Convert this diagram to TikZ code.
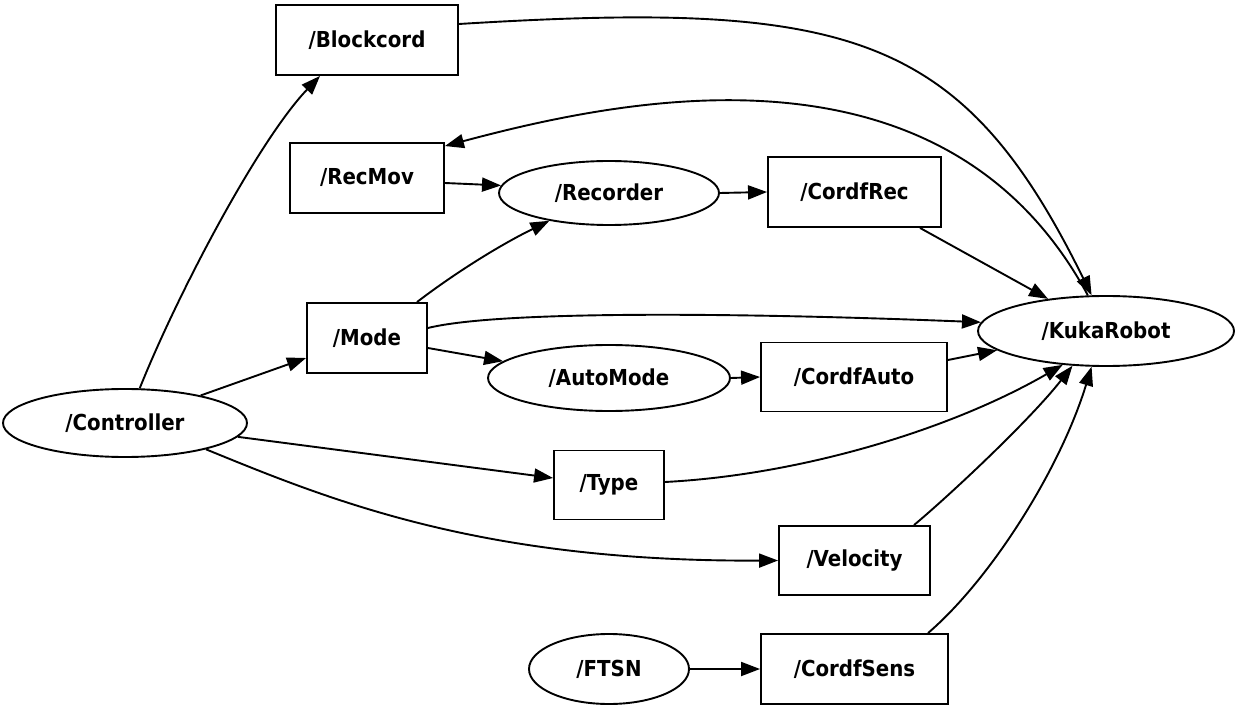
\documentclass[tikz,border=0pt]{standalone}
\usepackage{fontspec}
\setmainfont{DejaVu Sans Condensed}
\usetikzlibrary{shapes.geometric,arrows.meta}
\begin{document}
\begin{tikzpicture}[x=1pt,y=1pt,
  every node/.style={font=\fontsize{22}{26}\selectfont\bfseries, inner sep=0pt, line width=1.9pt},
  rbox/.style={draw, rectangle},
  ebox/.style={draw, ellipse},
  edge/.style={line width=1.9pt, -{Triangle[length=19pt,width=14pt]}}]
\useasboundingbox (0,0) rectangle (1238,710);
% nodes
\node[rbox, minimum width=182pt, minimum height=70pt] (bc) at (367,670) {/Blockcord};
\node[rbox, minimum width=154pt, minimum height=70pt] (rm) at (367,532) {/RecMov};
\node[ebox, minimum width=220pt, minimum height=64pt] (rec) at (609,517) {/Recorder};
\node[rbox, minimum width=173pt, minimum height=70pt] (cfr) at (854.5,518) {/CordfRec};
\node[rbox, minimum width=120pt, minimum height=70pt] (mode) at (367,372) {/Mode};
\node[ebox, minimum width=256pt, minimum height=70pt] (kuka) at (1106,379) {/KukaRobot};
\node[ebox, minimum width=242pt, minimum height=66pt] (auto) at (609,332) {/AutoMode};
\node[rbox, minimum width=186pt, minimum height=69pt] (cfa) at (854,333) {/CordfAuto};
\node[ebox, minimum width=244pt, minimum height=68pt] (ctrl) at (125,287) {/Controller};
\node[rbox, minimum width=110pt, minimum height=69pt] (type) at (609,225) {/Type};
\node[rbox, minimum width=151pt, minimum height=69pt] (vel) at (854.5,149.5) {/Velocity};
\node[ebox, minimum width=160pt, minimum height=70pt] (ftsn) at (609,41) {/FTSN};
\node[rbox, minimum width=187pt, minimum height=70pt] (cs) at (854.5,41) {/CordfSens};
% edges
\draw[edge] (ctrl.67) .. controls (177,415) and (258,569) .. ([xshift=-47pt]bc.south);
\draw[edge] ([yshift=16pt]bc.east) .. controls (850,710) and (962,678) .. (kuka.112);
\draw[edge] (kuka.117) .. controls (945,680) and (625,612) .. ([yshift=-4pt]rm.north east);
\draw[edge] ([yshift=-5pt]rm.east) -- (rec.176);
\draw[edge] (rec.east) -- (cfr.west);
\draw[edge] ([xshift=65.5pt]cfr.south) -- (kuka.151);
\draw[edge] ([xshift=50pt]mode.north) .. controls (455,437) and (500,465) .. (rec.205);
\draw[edge] ([yshift=10pt]mode.east) .. controls (500,400) and (750,397) .. (kuka.176);
\draw[edge] ([yshift=-10pt]mode.east) -- (auto.171);
\draw[edge] (auto.east) -- (cfa.west);
\draw[edge] ([yshift=17pt]cfa.east) -- (kuka.190);
\draw[edge] (ctrl.20) -- ([yshift=-20pt]mode.west);
\draw[edge] (ctrl.353) -- ([yshift=7pt]type.west);
\draw[edge] (ctrl.342) .. controls (330,210) and (480,148) .. (vel.west);
\draw[edge] ([yshift=3pt]type.east) .. controls (800,235) and (950,280) .. (kuka.218);
\draw[edge] ([xshift=59.5pt]vel.north) .. controls (950,215) and (1030,290) .. (kuka.226);
\draw[edge] ([xshift=73.5pt]cs.north) .. controls (990,130) and (1060,240) .. (kuka.248);
\draw[edge] (ftsn.east) -- (cs.west);
\end{tikzpicture}
\end{document}
